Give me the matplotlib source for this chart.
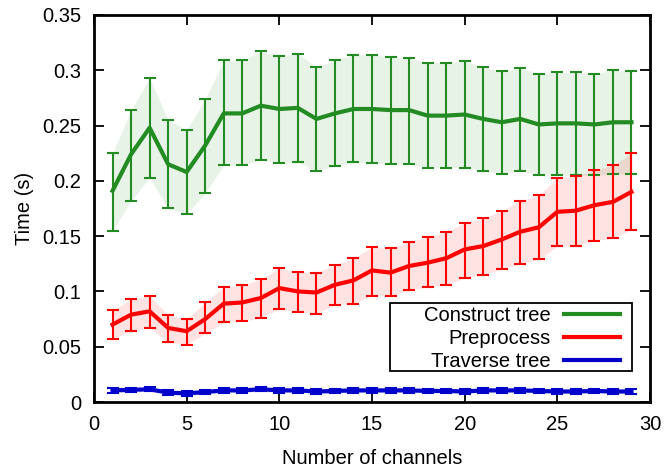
import numpy as np
import matplotlib
matplotlib.use("Agg")
import matplotlib.pyplot as plt
from matplotlib.patches import Rectangle

plt.rcParams['font.family'] = ['Liberation Sans', 'DejaVu Sans']

channels = list(range(1, 30))

construct_mean = [0.191, 0.224, 0.248, 0.215, 0.208, 0.232, 0.261, 0.261, 0.268, 0.265,
                  0.266, 0.256, 0.261, 0.265, 0.265, 0.264, 0.264, 0.259, 0.259, 0.260,
                  0.256, 0.253, 0.256, 0.251, 0.252, 0.252, 0.251, 0.253, 0.253]
construct_hi = [0.225, 0.264, 0.293, 0.255, 0.246, 0.274, 0.309, 0.309, 0.317, 0.313,
                0.315, 0.303, 0.309, 0.314, 0.314, 0.312, 0.311, 0.307, 0.307, 0.308,
                0.303, 0.299, 0.302, 0.297, 0.298, 0.298, 0.297, 0.300, 0.299]
construct_lo = [0.155, 0.182, 0.203, 0.175, 0.170, 0.189, 0.214, 0.214, 0.219, 0.216,
                0.217, 0.209, 0.213, 0.217, 0.216, 0.215, 0.215, 0.212, 0.212, 0.212,
                0.209, 0.206, 0.209, 0.205, 0.205, 0.205, 0.205, 0.206, 0.206]

pre_mean = [0.070, 0.079, 0.082, 0.067, 0.064, 0.075, 0.089, 0.090, 0.094, 0.103,
            0.100, 0.099, 0.106, 0.110, 0.119, 0.117, 0.123, 0.126, 0.130, 0.138,
            0.141, 0.147, 0.154, 0.158, 0.172, 0.173, 0.178, 0.181, 0.190]
pre_hi = [0.083, 0.093, 0.096, 0.079, 0.075, 0.090, 0.104, 0.106, 0.111, 0.121,
          0.118, 0.117, 0.124, 0.130, 0.140, 0.139, 0.145, 0.149, 0.154, 0.162,
          0.166, 0.173, 0.182, 0.187, 0.203, 0.204, 0.210, 0.214, 0.225]
pre_lo = [0.057, 0.064, 0.067, 0.054, 0.052, 0.062, 0.072, 0.073, 0.076, 0.084,
          0.081, 0.080, 0.088, 0.089, 0.096, 0.096, 0.101, 0.104, 0.106, 0.112,
          0.115, 0.120, 0.125, 0.129, 0.141, 0.141, 0.146, 0.148, 0.156]

trav_mean = [0.0105, 0.011, 0.0115, 0.0085, 0.0078, 0.009, 0.0105, 0.0105, 0.0115, 0.0105,
             0.0105, 0.0095, 0.010, 0.0105, 0.0105, 0.0105, 0.0105, 0.010, 0.010, 0.0095,
             0.0105, 0.0105, 0.0105, 0.010, 0.0095, 0.0095, 0.010, 0.0095, 0.0095]
trav_err = [0.002] * 29

xticks = [0, 5, 10, 15, 20, 25, 30]
yticks = [0, 0.05, 0.1, 0.15, 0.2, 0.25, 0.3, 0.35]
ytick_labels = ["0", "0.05", "0.1", "0.15", "0.2", "0.25", "0.3", "0.35"]

fig = plt.figure(figsize=(6.65, 4.69), dpi=100)
ax = fig.add_axes([94/665, (469-402)/469, 556/665, 387/469])

def series(mean, lo, hi, color, label, fill_alpha):
    m = np.array(mean); l = np.array(lo); h = np.array(hi)
    ax.fill_between(channels, l, h, color=color, alpha=fill_alpha, linewidth=0)
    ax.errorbar(channels, m, yerr=[m - l, h - m], color=color, ecolor=color,
                elinewidth=1.5, capsize=4, capthick=1.5, linewidth=0)
    ax.plot(channels, m, color=color, linewidth=3, label=label)

series(construct_mean, construct_lo, construct_hi, '#228b22', 'Construct tree', 0.1)
series(pre_mean, pre_lo, pre_hi, '#ff0000', 'Preprocess', 0.11)
tm = np.array(trav_mean); te = np.array(trav_err)
series(trav_mean, tm - te, tm + te, '#0000cc', 'Traverse tree', 0.1)

ax.set_xlim(0, 30)
ax.set_ylim(0, 0.35)
ax.set_xticks(xticks)
ax.set_xticklabels([str(t) for t in xticks])
ax.set_yticks(yticks)
ax.set_yticklabels(ytick_labels)
ax.tick_params(direction='in', length=7, width=1.3, labelsize=14.5, pad=9,
               top=True, right=True, colors='black')
for s in ax.spines.values():
    s.set_linewidth(2)

ax.set_xlabel('Number of channels', fontsize=14.5, labelpad=11)
ax.set_ylabel('Time (s)', fontsize=14.5, labelpad=6)

# legend frame (gnuplot-style box)
frame = Rectangle((0.532, 0.080), 0.968 - 0.532, 0.256 - 0.080, transform=ax.transAxes,
                  facecolor='white', edgecolor='black', linewidth=1.3, zorder=4.5)
ax.add_patch(frame)
leg = ax.legend(loc='center right', bbox_to_anchor=(0.946, 0.163),
                markerfirst=False, fontsize=14.5, frameon=False,
                handlelength=2.8, handletextpad=0.65,
                borderpad=0, labelspacing=0.2, borderaxespad=0)
leg.set_zorder(5)

fig.savefig('out.png', dpi=100)
